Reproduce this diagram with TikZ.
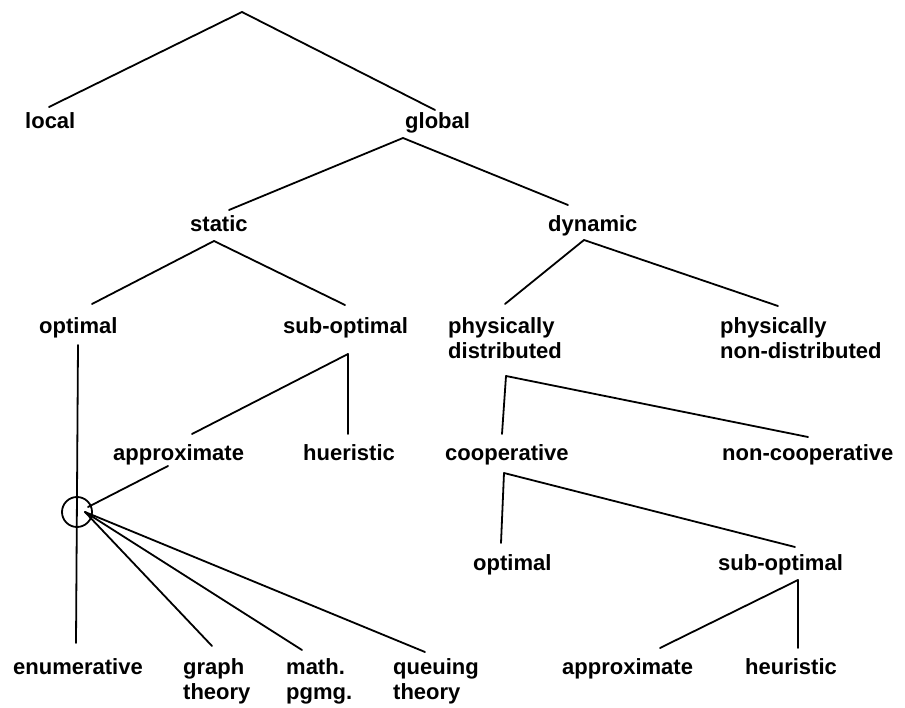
\documentclass[tikz,border=0pt]{standalone}
\usepackage{fontspec}
\setmainfont{Liberation Sans}
\begin{document}
\begin{tikzpicture}[x=1pt,y=-1pt,
  lbl/.style={anchor=base west,inner sep=0pt,font=\fontsize{22}{25}\selectfont\bfseries,align=left},
  branch/.style={line width=1.8pt,line cap=round,line join=round}]
\useasboundingbox (0,0) rectangle (905,708);

% labels (two-line labels are placed by the baseline of their last line)
\node[lbl] (local)   at (25,129)  {local};
\node[lbl] (global)  at (405,129) {global};
\node[lbl] (static)  at (190,232) {static};
\node[lbl] (dynamic) at (548,232) {dynamic};
\node[lbl] (sopt)    at (39,334)  {optimal};
\node[lbl] (ssub)    at (283,334) {sub-optimal};
\node[lbl] (pdist)   at (448,359) {physically\\distributed};
\node[lbl] (pnon)    at (720,359) {physically\\non-distributed};
\node[lbl] (sapprox) at (113,460) {approximate};
\node[lbl] (sheur)   at (303,460) {hueristic};
\node[lbl] (coop)    at (445,460) {cooperative};
\node[lbl] (noncoop) at (722,460) {non-cooperative};
\node[lbl] (copt)    at (473,570) {optimal};
\node[lbl] (csub)    at (718,570) {sub-optimal};
\node[lbl] (enum)    at (13,674)  {enumerative};
\node[lbl] (graph)   at (183,699) {graph\\theory};
\node[lbl] (math)    at (286,699) {math.\\pgmg.};
\node[lbl] (queue)   at (393,699) {queuing\\theory};
\node[lbl] (capprox) at (562,674) {approximate};
\node[lbl] (cheur)   at (745,674) {heuristic};

% branch points and line ends
\coordinate (root)      at (242,12);
\coordinate (local-t)   at (49,107);
\coordinate (global-t)  at (435,110);
\coordinate (global-f)  at (403,138);
\coordinate (static-t)  at (229,210);
\coordinate (dynamic-t) at (568,205);
\coordinate (static-f)  at (214,241);
\coordinate (sopt-t)    at (92,304);
\coordinate (ssub-t)    at (345,305);
\coordinate (dynamic-f) at (584,240);
\coordinate (pdist-t)   at (505,304);
\coordinate (pnon-t)    at (778,306);
\coordinate (sopt-b)    at (78,345);
\coordinate (enum-t)    at (76,643);
\coordinate (ssub-f)    at (348,354);
\coordinate (sapprox-t) at (192,434);
\coordinate (sheur-t)   at (348,434);
\coordinate (sapprox-b) at (168,466);
\coordinate (hub)       at (77,512);
\coordinate (hub-in)    at (88,507);
\coordinate (hub-out)   at (85,512);
\coordinate (graph-t)   at (212,646);
\coordinate (math-t)    at (302,650);
\coordinate (queue-t)   at (425,652);
\coordinate (pdist-f)   at (506,376);
\coordinate (coop-t)    at (502,434);
\coordinate (noncoop-t) at (808,437);
\coordinate (coop-f)    at (504,473);
\coordinate (copt-t)    at (501,543);
\coordinate (csub-t)    at (795,547);
\coordinate (csub-f)    at (798,580);
\coordinate (capprox-t) at (660,648);
\coordinate (cheur-t)   at (798,648);

% tree branches
\draw[branch] (local-t) -- (root) -- (global-t);
\draw[branch] (static-t) -- (global-f) -- (dynamic-t);
\draw[branch] (sopt-t) -- (static-f) -- (ssub-t);
\draw[branch] (pdist-t) -- (dynamic-f) -- (pnon-t);
\draw[branch] (sopt-b) -- (enum-t);
\draw[branch] (sapprox-t) -- (ssub-f) -- (sheur-t);
\draw[branch] (sapprox-b) -- (hub-in);
\draw[branch] (hub) circle[radius=15];
\draw[branch] (hub-out) -- (graph-t);
\draw[branch] (hub-out) -- (math-t);
\draw[branch] (hub-out) -- (queue-t);
\draw[branch] (noncoop-t) -- (pdist-f) -- (coop-t);
\draw[branch] (copt-t) -- (coop-f) -- (csub-t);
\draw[branch] (capprox-t) -- (csub-f) -- (cheur-t);
\end{tikzpicture}
\end{document}
